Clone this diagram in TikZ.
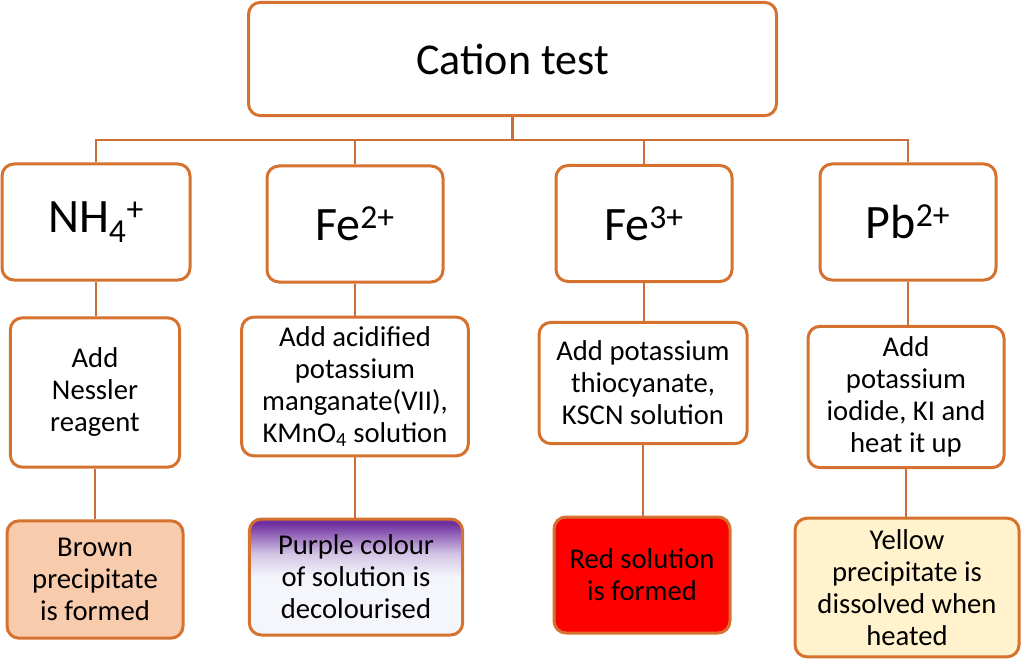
\documentclass[tikz,border=0pt]{standalone}
\usepackage{fontspec}
\setmainfont{Carlito}
\usepackage{tikz}
\definecolor{boxorange}{HTML}{D6722F}
\definecolor{lineorange}{HTML}{CB6F36}
\definecolor{brownppt}{HTML}{F8CBAD}
\definecolor{yellowppt}{HTML}{FFF2CC}
\definecolor{purpleppt}{HTML}{7030A0}
\definecolor{paleppt}{HTML}{F4F6FB}
\pgfdeclareverticalshading{decolour}{100bp}{color(0bp)=(paleppt); color(50bp)=(paleppt); color(60bp)=(paleppt!75!purpleppt); color(73bp)=(purpleppt); color(100bp)=(purpleppt)}
\tikzset{
	box/.style={draw=boxorange, line width=2.25pt, rounded corners=9pt, fill=white, align=center, inner sep=0pt},
	body/.style={box, font=\fontsize{21.5}{24}\selectfont},
	ion/.style={box, minimum width=132pt, minimum height=87pt, font=\fontsize{36}{40}\selectfont},
	link/.style={draw=lineorange, line width=1.2pt},
}

\begin{document}
\begin{tikzpicture}[x=0.75pt, y=-0.75pt]
			%%%%% START %%%%%
			\useasboundingbox (0, 0) rectangle (1023, 670);
			
			\node[box, minimum width=396pt, minimum height=85pt, font=\fontsize{33}{38}\selectfont] (cation) at (512.5, 59) {Cation test};
			
			\node[ion, minimum width=141pt] (nh) at (96, 222) {NH\textsubscript{4}\textsuperscript{+}};
			\node[ion] (fetwo) at (355, 224) {Fe\textsuperscript{2+}};
			\node[ion] (fethree) at (644, 223.5) {Fe\textsuperscript{3+}};
			\node[ion] (pb) at (908, 222) {Pb\textsuperscript{2+}};
			
			\node[body, minimum width=127pt, minimum height=112pt] (nh-add) at (95, 392.5) {Add\\Nessler\\reagent};
			\node[body, minimum width=170pt, minimum height=104pt] (fetwo-add) at (355, 386.5) {Add acidified\\potassium\\manganate(VII),\\KMnO\textsubscript{4} solution};
			\node[body, minimum width=156pt, minimum height=91pt] (fethree-add) at (643, 383) {Add potassium\\thiocyanate,\\KSCN solution};
			\node[body, minimum width=147pt, minimum height=106pt] (pb-add) at (906, 397) {Add\\potassium\\iodide, KI and\\heat it up};
			
			\node[body, fill=brownppt, minimum width=132pt, minimum height=88pt] (nh-res) at (95, 579.5) {Brown\\precipitate\\is formed};
			\node[body, shading=decolour, minimum width=160pt, minimum height=87pt] (fetwo-res) at (356, 577) {Purple colour\\of solution is\\decolourised};
			\node[body, fill=red, minimum width=132pt, minimum height=87pt] (fethree-res) at (642, 575) {Red solution\\is formed};
			\node[body, fill=yellowppt, minimum width=168pt, minimum height=104pt] (pb-res) at (907, 587.5) {Yellow\\precipitate is\\dissolved when\\heated};
			
			\coordinate (bus) at (512.5, 140);
			\draw[link, line width=2pt] (cation.south) -- (bus);
			\draw[link] (nh.north) |- (pb.north |- bus) -- (pb.north);
			\draw[link] (fetwo.north) -- (fetwo.north |- bus);
			\draw[link] (fethree.north) -- (fethree.north |- bus);
			
			\foreach \ion in {nh, fetwo, fethree, pb}{
				\draw[link] (\ion.south) -- (\ion.south |- \ion-add.north);
				\draw[link] (\ion-add.south) -- (\ion-add.south |- \ion-res.north);
			}
			%%%%% END %%%%%
\end{tikzpicture}
\end{document}
